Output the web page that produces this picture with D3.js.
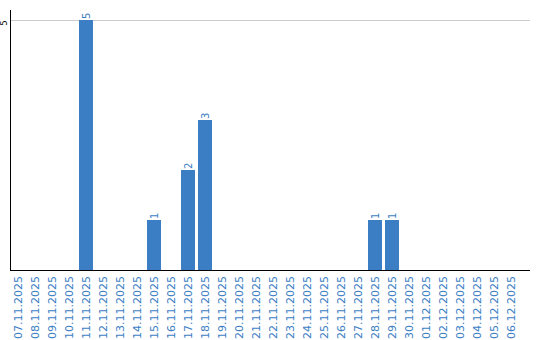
<!DOCTYPE html>
<html lang="en">
<head>
<meta charset="UTF-8">
<title>Chart</title>
<style>
  body { margin: 0; background: #fff; }
  text { font-family: "DejaVu Sans", Verdana, sans-serif; }
</style>
</head>
<body>
<svg width="540" height="340"></svg>
<script src="https://d3js.org/d3.v7.min.js"></script>
<script>
  var dates = ["07.11.2025","08.11.2025","09.11.2025","10.11.2025","11.11.2025","12.11.2025",
    "13.11.2025","14.11.2025","15.11.2025","16.11.2025","17.11.2025","18.11.2025",
    "19.11.2025","20.11.2025","21.11.2025","22.11.2025","23.11.2025","24.11.2025",
    "25.11.2025","26.11.2025","27.11.2025","28.11.2025","29.11.2025","30.11.2025",
    "01.12.2025","02.12.2025","03.12.2025","04.12.2025","05.12.2025","06.12.2025"];
  var counts = [0,0,0,0,5,0,0,0,1,0,2,3,0,0,0,0,0,0,0,0,0,1,1,0,0,0,0,0,0,0];
  var yTicks = [5];

  var blue = "#3b7ec4";
  var svg = d3.select("svg");
  var m = {left: 11, bottom: 270, top: 20, right: 530};

  var rows = dates.map(function(d, i){ return {date: d, value: counts[i]}; });
  var nonZero = rows.filter(function(r){ return r.value > 0; });

  // step 17, bar 14
  var x = d3.scaleBand()
    .domain(dates)
    .range([m.left, m.left + 17 * dates.length - 3])
    .paddingInner(3 / 17)
    .paddingOuter(0);

  var y = d3.scaleLinear().domain([0, 5]).range([m.bottom, m.top]);

  // gridline
  svg.selectAll(".grid").data(yTicks).enter().append("line")
    .attr("x1", m.left).attr("x2", m.right)
    .attr("y1", function(d){ return y(d) + 0.5; })
    .attr("y2", function(d){ return y(d) + 0.5; })
    .attr("stroke", "#cccccc");

  // bars
  svg.selectAll(".bar").data(nonZero).enter().append("rect")
    .attr("x", function(d){ return x(d.date); })
    .attr("y", function(d){ return y(d.value); })
    .attr("width", x.bandwidth())
    .attr("height", function(d){ return m.bottom - y(d.value); })
    .attr("fill", blue);

  // value labels
  svg.selectAll(".val").data(nonZero).enter().append("text")
    .attr("transform", function(d){
      return "translate(" + (x(d.date) + x.bandwidth() / 2) + "," + (y(d.value) - 1) + ") rotate(-90)";
    })
    .attr("dy", "0.35em")
    .attr("font-size", 10)
    .attr("fill", blue)
    .text(function(d){ return d.value; });

  // axis lines
  svg.append("line")
    .attr("x1", 10.5).attr("x2", 10.5).attr("y1", 10).attr("y2", m.bottom + 0.5)
    .attr("stroke", "#000");
  svg.append("line")
    .attr("x1", 10).attr("x2", m.right).attr("y1", m.bottom + 0.5).attr("y2", m.bottom + 0.5)
    .attr("stroke", "#000");

  // y tick labels
  svg.selectAll(".ytick").data(yTicks).enter().append("text")
    .attr("transform", function(d){ return "translate(4," + (y(d) + 3) + ") rotate(-90)"; })
    .attr("dy", "0.35em")
    .attr("text-anchor", "middle")
    .attr("font-size", 8)
    .attr("fill", "#000")
    .text(function(d){ return d; });

  // x labels
  svg.selectAll(".xlab").data(dates).enter().append("text")
    .attr("transform", function(d){
      return "translate(" + (x(d) + x.bandwidth() / 2) + "," + (m.bottom + 6) + ") rotate(-90)";
    })
    .attr("dy", "0.35em")
    .attr("text-anchor", "end")
    .attr("font-size", 11)
    .attr("fill", blue)
    .text(function(d){ return d; });
</script>
</body>
</html>
